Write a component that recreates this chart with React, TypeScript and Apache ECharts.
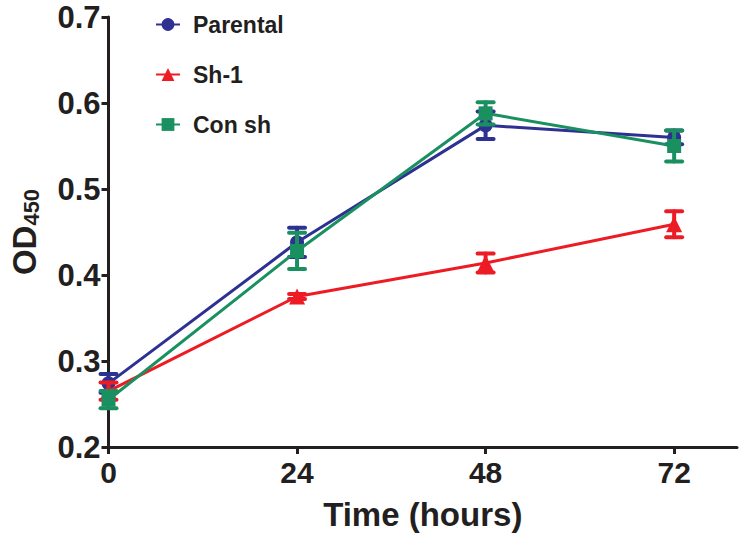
import React, { useEffect, useRef } from "react";
import * as echarts from "echarts";

const hours = [0, 24, 48, 72];
const xTicks = [0, 24, 48, 72];
const seriesNames = ["Parental", "Sh-1", "Con sh"];
const parentalMean = [0.274, 0.438, 0.574, 0.56];
const parentalErr = [0.011, 0.017, 0.016, 0.008];
const sh1Mean = [0.265, 0.375, 0.414, 0.459];
const sh1Err = [0.01, 0.003, 0.011, 0.015];
const conMean = [0.255, 0.428, 0.588, 0.55];
const conErr = [0.01, 0.021, 0.013, 0.018];
const colors = ["#2e3192", "#ed1c24", "#1a9060"];
const symbols = ["circle", "triangle", "rect"];

const FONT = "'Liberation Sans', Arial, sans-serif";
const INK = "#231f20";

function errData(mean: number[], err: number[]) {
  return hours.map((h, i) => [h, mean[i] - err[i], mean[i] + err[i]]);
}

function errSeries(name: string, mean: number[], err: number[], color: string, z: number) {
  return {
    type: "custom",
    name: name + " error",
    z,
    itemStyle: { color },
    data: errData(mean, err),
    encode: { x: 0, y: [1, 2] },
    renderItem: (params: any, api: any) => {
      const x = api.value(0);
      const lo = api.coord([x, api.value(1)]);
      const hi = api.coord([x, api.value(2)]);
      const half = 8;
      const style = { stroke: color, lineWidth: 4, lineCap: "round" };
      return {
        type: "group",
        children: [
          { type: "line", shape: { x1: lo[0], y1: lo[1], x2: hi[0], y2: hi[1] }, style },
          { type: "line", shape: { x1: lo[0] - half, y1: lo[1], x2: lo[0] + half, y2: lo[1] }, style },
          { type: "line", shape: { x1: hi[0] - half, y1: hi[1], x2: hi[0] + half, y2: hi[1] }, style },
        ],
      };
    },
  };
}

function lineSeries(name: string, mean: number[], idx: number, z: number) {
  return {
    type: "line",
    name,
    z,
    data: hours.map((h, i) => [h, mean[i]]),
    symbol: symbols[idx],
    symbolSize: idx === 1 ? 16 : 14,
    showSymbol: true,
    lineStyle: { color: colors[idx], width: 3 },
    itemStyle: { color: colors[idx] },
  };
}

export default function App() {
  const ref = useRef<HTMLDivElement>(null);
  useEffect(() => {
    if (!ref.current) return;
    const chart = echarts.init(ref.current, null, { renderer: "svg" });
    chart.setOption({
      animation: false,
      backgroundColor: "#ffffff",
      grid: { left: 104, right: 5, top: 17, bottom: 90 },
      legend: {
        orient: "vertical",
        left: 150,
        top: 8,
        itemGap: 27,
        itemWidth: 24,
        itemHeight: 16,
        data: seriesNames,
        textStyle: { fontFamily: FONT, fontWeight: "bold", fontSize: 23, color: INK, padding: [0, 0, 0, 8] },
      },
      xAxis: {
        type: "value",
        min: 0,
        max: 80,
        interval: 24,
        axisLine: { lineStyle: { color: INK, width: 3 } },
        axisTick: { length: 7, lineStyle: { color: INK, width: 3 }, customValues: xTicks },
        axisLabel: {
          customValues: xTicks,
          fontFamily: FONT,
          fontWeight: "bold",
          fontSize: 30,
          color: INK,
          margin: 10,
        },
        splitLine: { show: false },
        name: "Time (hours)",
        nameLocation: "middle",
        nameGap: 51,
        nameTextStyle: { fontFamily: FONT, fontWeight: "bold", fontSize: 33, color: INK },
      },
      yAxis: {
        type: "value",
        min: 0.2,
        max: 0.7,
        interval: 0.1,
        axisLine: { show: true, lineStyle: { color: INK, width: 3 } },
        axisTick: { show: true, length: 7, lineStyle: { color: INK, width: 3 } },
        axisLabel: {
          formatter: (v: number) => v.toFixed(1),
          fontFamily: FONT,
          fontWeight: "bold",
          fontSize: 31,
          color: INK,
          margin: 8,
        },
        splitLine: { show: false },
        name: "{main|OD}{sub|450}",
        nameLocation: "middle",
        nameRotate: 90,
        nameGap: 66,
        nameTextStyle: {
          rich: {
            main: { fontFamily: FONT, fontWeight: "bold", fontSize: 33, color: INK },
            sub: { fontFamily: FONT, fontWeight: "bold", fontSize: 22, color: INK, verticalAlign: "bottom", padding: [14, 0, 0, 0] },
          },
        },
      },
      series: [
        errSeries("Parental", parentalMean, parentalErr, colors[0], 2),
        lineSeries("Parental", parentalMean, 0, 3),
        errSeries("Sh-1", sh1Mean, sh1Err, colors[1], 4),
        lineSeries("Sh-1", sh1Mean, 1, 5),
        errSeries("Con sh", conMean, conErr, colors[2], 6),
        lineSeries("Con sh", conMean, 2, 7),
      ],
    });
    return () => chart.dispose();
  }, []);
  return <div ref={ref} style={{ width: 742, height: 537, position: "absolute", left: 0, top: 0 }} />;
}
